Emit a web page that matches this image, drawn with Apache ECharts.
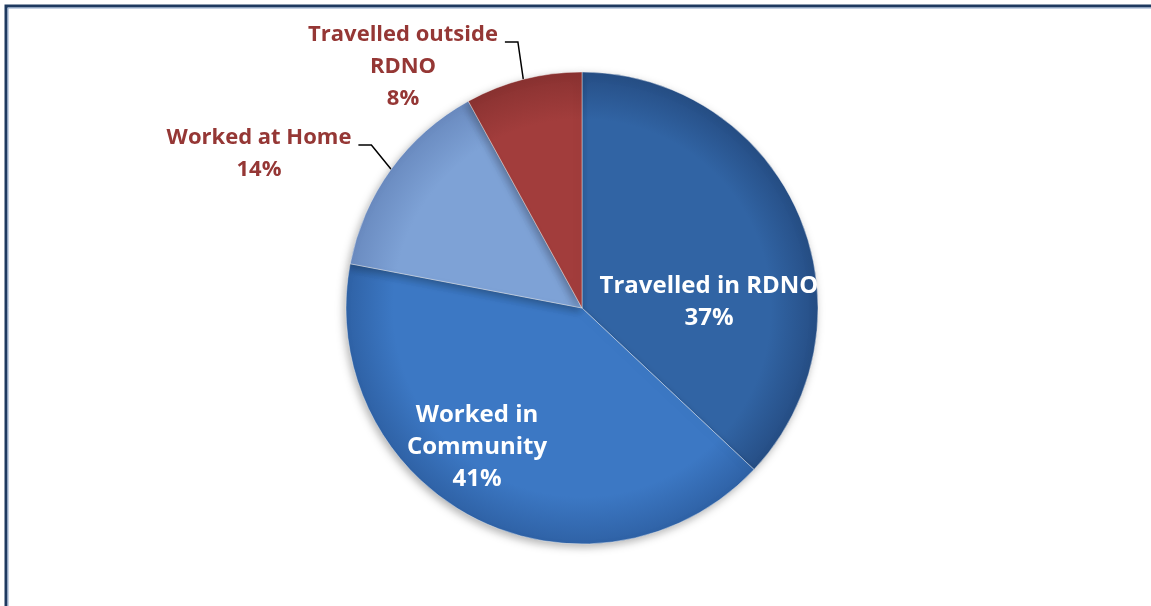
<!DOCTYPE html>
<html><head><meta charset="utf-8">
<script src="https://cdn.jsdelivr.net/npm/echarts@6/dist/echarts.min.js"></script>
<style>html,body{margin:0;padding:0;background:#fff}#c{width:1151px;height:606px}</style>
</head><body><div id="c"></div>
<script>
const categories = ['Travelled in RDNO', 'Worked in\nCommunity', 'Worked at Home', 'Travelled outside\nRDNO'];
const values = [37, 41, 14, 8];
const baseColors = ['#3164a4', '#3c78c4', '#7ea2d6', '#a23d3c'];
const edgeColors = ['#264e85', '#2f62a6', '#6a8bc0', '#8a3231'];
const insideIdx = [0, 1];

const chart = echarts.init(document.getElementById('c'), null, {renderer: 'canvas'});
const CX = 582, CY = 308, R = 236;
const labelPos = {
  0: [709, 302],
  1: [477, 447],
  2: [259, 154],
  3: [403, 67]
};
const data = categories.map((n, i) => {
  const inside = insideIdx.includes(i);
  return {
    name: n, value: values[i],
    itemStyle: {
      color: {type: 'radial', x: CX, y: CY, r: R, global: true, colorStops: [
        {offset: 0, color: baseColors[i]}, {offset: 0.8, color: baseColors[i]}, {offset: 1, color: edgeColors[i]}]}
    },
    label: inside ? {position: 'inside', color: '#ffffff', fontSize: 24} : {position: 'outside', color: '#953735', fontSize: 22},
    labelLine: {show: !inside}
  };
});
chart.setOption({
  animation: false,
  graphic: [
    {type: 'rect', shape: {x: 6, y: 6, width: 1200, height: 700}, style: {fill: 'none', stroke: '#1f3a60', lineWidth: 3}},
    {type: 'rect', shape: {x: 8, y: 8, width: 1200, height: 700}, style: {fill: 'none', stroke: '#8ea6c8', lineWidth: 1}}
  ],
  series: [{
    type: 'pie',
    center: [CX, CY], radius: R,
    startAngle: 90, clockwise: true,
    data: data,
    itemStyle: {borderColor: 'rgba(255,255,255,0.4)', borderWidth: 1, shadowBlur: 8, shadowColor: 'rgba(0,0,0,0.3)', shadowOffsetX: -2, shadowOffsetY: 3},
    label: {
      formatter: p => p.name + '\n' + p.value + '%',
      fontFamily: 'Open Sans', fontWeight: 'bold', fontSize: 23, lineHeight: 32, align: 'center'
    },
    labelLine: {lineStyle: {color: '#000', width: 1.5}, length: 20, length2: 14},
    labelLayout: function (p) {
      const pos = labelPos[p.dataIndex];
      const res = {x: pos[0], y: pos[1], align: 'center', verticalAlign: 'middle'};
      if (p.labelLinePoints) {
        const s = p.labelLinePoints[0];
        const r = p.labelRect;
        const firstLineY = pos[1] - r.height / 2 + 23;
        const rightX = pos[0] + r.width / 2;
        res.labelLinePoints = [[s[0], s[1]], [rightX + 20, firstLineY], [rightX + 7, firstLineY]];
      }
      return res;
    }
  }]
});
</script></body></html>
